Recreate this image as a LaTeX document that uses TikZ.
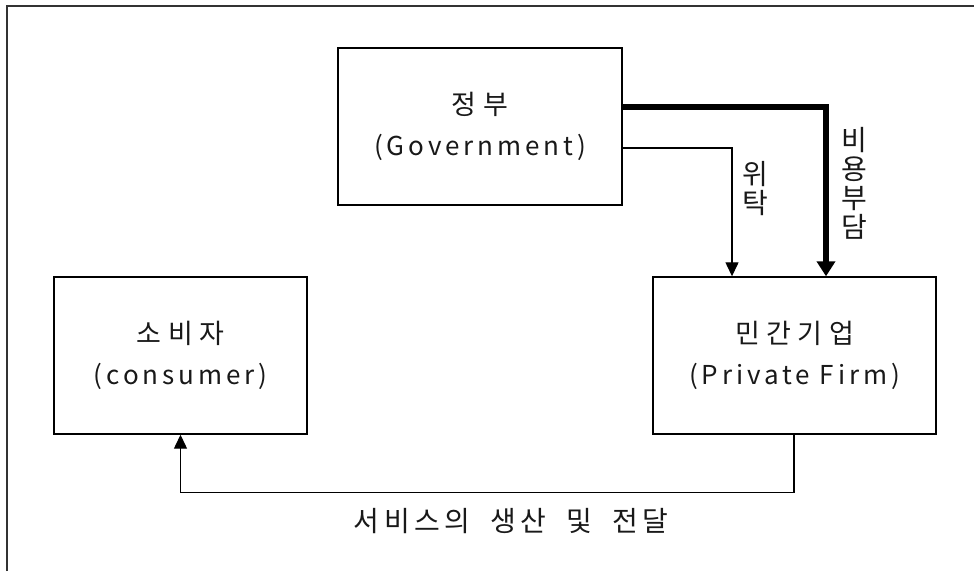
\documentclass[tikz,border=0pt]{standalone}
\usepackage{fontspec}
\setmainfont[LetterSpace=15]{Noto Sans CJK KR}
\newfontfamily\korfont[LetterSpace=24]{Noto Sans CJK KR}
\newfontfamily\botfont[LetterSpace=16]{Noto Sans CJK KR}
\newfontfamily\vertfont{Noto Sans CJK KR}
\newcommand\kortxt[1]{{\korfont\fontsize{27}{41}\selectfont #1}}
\usetikzlibrary{arrows.meta}
\tikzset{
  box/.style={draw=black, line width=1.4pt, rectangle, inner sep=0pt, align=center,
    font=\fontsize{26}{41}\selectfont, text=black!90},
  vlbl/.style={inner sep=0pt, align=center, font=\vertfont\fontsize{28}{29}\selectfont, text=black!90},
  lbl/.style={inner sep=0pt, font=\botfont\fontsize{28}{29}\selectfont, text=black!90},
  thinarrow/.style={draw=black, line width=1.3pt, -{Triangle[width=13pt,length=14pt]}},
  thickarrow/.style={draw=black, line width=5.5pt, -{Triangle[width=18pt,length=15pt]}},
  frame/.style={draw=black!80, line width=2pt}
}
\begin{document}
\begin{tikzpicture}[x=1pt, y=-1pt]
\useasboundingbox (0,0) rectangle (974,571);
\fill[white] (0,0) rectangle (974,571);
\draw[frame] (7,571) -- (7,6) -- (974,6);

\node[box, minimum width=284pt, minimum height=157pt] (gov) at (480,126.5) {\kortxt{정부}\\(Government)};
\node[box, minimum width=253pt, minimum height=157pt] (cons) at (180.5,355.5) {\kortxt{소비자}\\(consumer)};
\node[box, minimum width=283pt, minimum height=157pt] (firm) at (794.5,355.5) {\kortxt{민간기업}\\(Private Firm)};

\draw[thickarrow] ([yshift=19.5pt]gov.east) -| ([xshift=31.5pt]firm.north);
\draw[thinarrow] ([yshift=-21.5pt]gov.east) -| ([xshift=-62.5pt]firm.north);
\draw[thinarrow] ([xshift=-0.5pt]firm.south) -- ++(0,58) -| (cons.south);

\node[vlbl] (wit) at (755,189) {위\\탁};
\node[vlbl] (bud) at (854,183.5) {비\\용\\부\\담};
\node[lbl] (svc) at (511,521) {서비스의\hspace{20pt}생산\hspace{20pt}및\hspace{20pt}전달};
\end{tikzpicture}
\end{document}
